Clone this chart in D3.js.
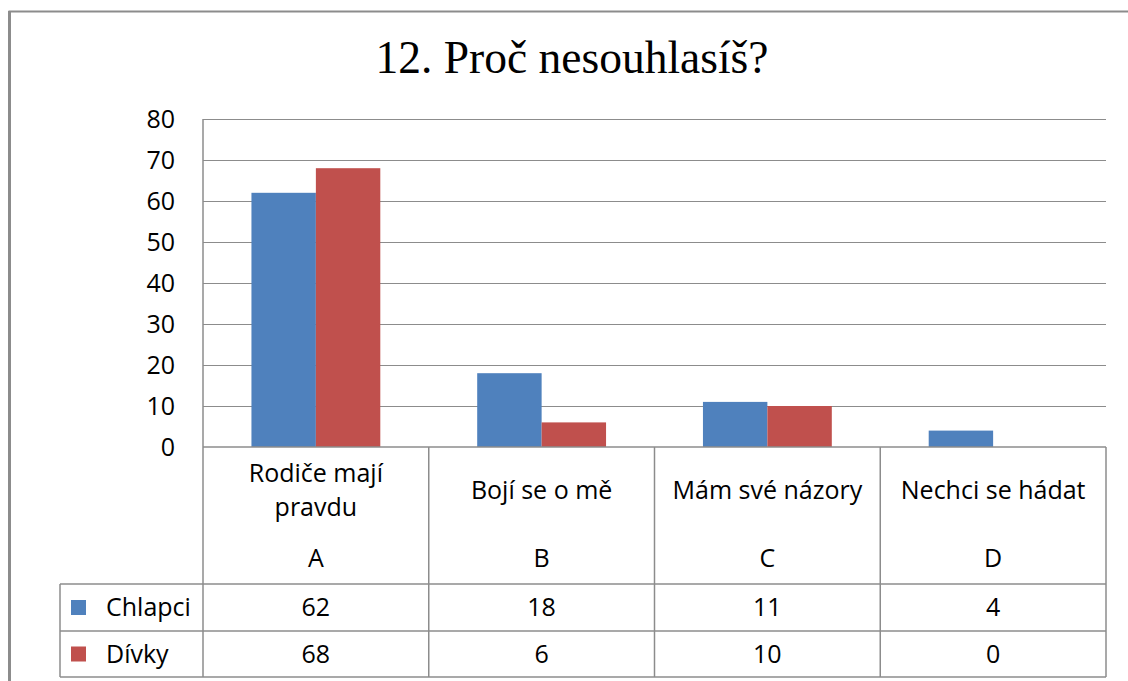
<!DOCTYPE html>
<html>
<head>
<meta charset="utf-8">
<script src="https://cdn.jsdelivr.net/npm/d3@7"></script>
<style>
  body { margin: 0; background: #fff; }
  svg text { fill: #000; }
</style>
</head>
<body>
<div id="chart"></div>
<script>
// data
var categories = ["A", "B", "C", "D"];
var categoryNames = [["Rodiče mají", "pravdu"], ["Bojí se o mě"], ["Mám své názory"], ["Nechci se hádat"]];
var seriesNames = ["Chlapci", "Dívky"];
var chlapci = [62, 18, 11, 4];
var divky = [68, 6, 10, 0];
var yTicks = [0, 10, 20, 30, 40, 50, 60, 70, 80];
var colors = ["#4f81bd", "#c0504d"];

var W = 1128, H = 681;
var plotL = 203, plotR = 1106, plotT = 119, plotB = 447;
var headB = 584, row1B = 631, row2B = 677, legL = 60;
var lineCol = "#8c8c8c";
var sans = "'Open Sans', sans-serif";
var fs = "25px";

var svg = d3.select("#chart").append("svg").attr("width", W).attr("height", H);

// outer chart border
svg.append("rect").attr("x", 9.5).attr("y", 11.5).attr("width", 1200).attr("height", 800)
  .attr("fill", "none").attr("stroke", lineCol).attr("stroke-width", 2);
svg.append("line").attr("x1", 9.5).attr("x2", 9.5).attr("y1", 11).attr("y2", H)
  .attr("stroke", lineCol).attr("stroke-width", 3);

// title
svg.append("text").attr("x", 572).attr("y", 73).attr("text-anchor", "middle")
  .style("font-family", "'Liberation Serif', 'Times New Roman', serif").style("font-size", "45.5px")
  .text("12. Proč nesouhlasíš?");

var x = d3.scaleBand().domain(categories).range([plotL, plotR]).padding(0);
var xs = d3.scaleBand().domain(seriesNames).range([0, x.bandwidth()]).paddingInner(0).paddingOuter(0.752);
var y = d3.scaleLinear().domain([0, 80]).range([plotB, plotT]);

// gridlines
svg.append("g").selectAll("line").data(yTicks.slice(1)).join("line")
  .attr("x1", plotL).attr("x2", plotR)
  .attr("y1", function(d) { return Math.round(y(d)) + 0.5; })
  .attr("y2", function(d) { return Math.round(y(d)) + 0.5; })
  .attr("stroke", lineCol).attr("stroke-width", 1);

// y axis labels
var yAxis = d3.axisLeft(y).tickValues(yTicks).tickSize(0).tickPadding(28);
var yg = svg.append("g").attr("transform", "translate(" + plotL + ",0)").call(yAxis);
yg.select(".domain").remove();
yg.selectAll("text").style("font-family", sans).style("font-size", fs).attr("fill", "#000");

// bars
var seriesData = [chlapci, divky];
seriesData.forEach(function(vals, si) {
  svg.append("g").selectAll("rect").data(categories).join("rect")
    .attr("x", function(c) { return x(c) + xs(seriesNames[si]); })
    .attr("width", xs.bandwidth())
    .attr("y", function(c, i) { return y(vals[i]); })
    .attr("height", function(c, i) { return plotB - y(vals[i]); })
    .attr("fill", colors[si]);
});

// table lines
var tl = svg.append("g").attr("stroke", lineCol).attr("stroke-width", 1.5).attr("fill", "none");
tl.append("line").attr("x1", plotL).attr("x2", plotL).attr("y1", plotT).attr("y2", row2B);
tl.append("line").attr("x1", plotL).attr("x2", plotR).attr("y1", plotB).attr("y2", plotB);
tl.append("line").attr("x1", legL).attr("x2", plotR).attr("y1", headB).attr("y2", headB);
tl.append("line").attr("x1", legL).attr("x2", plotR).attr("y1", row1B).attr("y2", row1B);
tl.append("line").attr("x1", legL).attr("x2", plotR).attr("y1", row2B).attr("y2", row2B);
tl.append("line").attr("x1", legL).attr("x2", legL).attr("y1", headB).attr("y2", row2B);
tl.selectAll("line.v").data(categories.slice(1).concat(["end"])).join("line").attr("class", "v")
  .attr("x1", function(c) { return c === "end" ? plotR : x(c); })
  .attr("x2", function(c) { return c === "end" ? plotR : x(c); })
  .attr("y1", plotB).attr("y2", row2B);

// category header texts
var head = svg.append("g").style("font-family", sans).style("font-size", fs).attr("text-anchor", "middle");
categories.forEach(function(c, i) {
  var cx = x(c) + x.bandwidth() / 2;
  var lines = categoryNames[i];
  var lh = 34, mid = 490;
  lines.forEach(function(t, j) {
    head.append("text").attr("x", cx).attr("y", mid + (j - (lines.length - 1) / 2) * lh)
      .attr("dy", "0.35em").text(t);
  });
  head.append("text").attr("x", cx).attr("y", 558).attr("dy", "0.35em").text(c);
});

// data rows with legend keys
var rowMid = [(headB + row1B) / 2, (row1B + row2B) / 2];
seriesData.forEach(function(vals, si) {
  var g = svg.append("g").style("font-family", sans).style("font-size", fs);
  g.append("rect").attr("x", 71).attr("y", rowMid[si] - 7.5).attr("width", 15).attr("height", 15).attr("fill", colors[si]);
  g.append("text").attr("x", 106).attr("y", rowMid[si]).attr("dy", "0.35em").text(seriesNames[si]);
  g.selectAll("text.v").data(categories).join("text").attr("class", "v")
    .attr("x", function(c) { return x(c) + x.bandwidth() / 2; })
    .attr("y", rowMid[si]).attr("dy", "0.35em").attr("text-anchor", "middle")
    .text(function(c, i) { return vals[i]; });
});
</script>
</body>
</html>
